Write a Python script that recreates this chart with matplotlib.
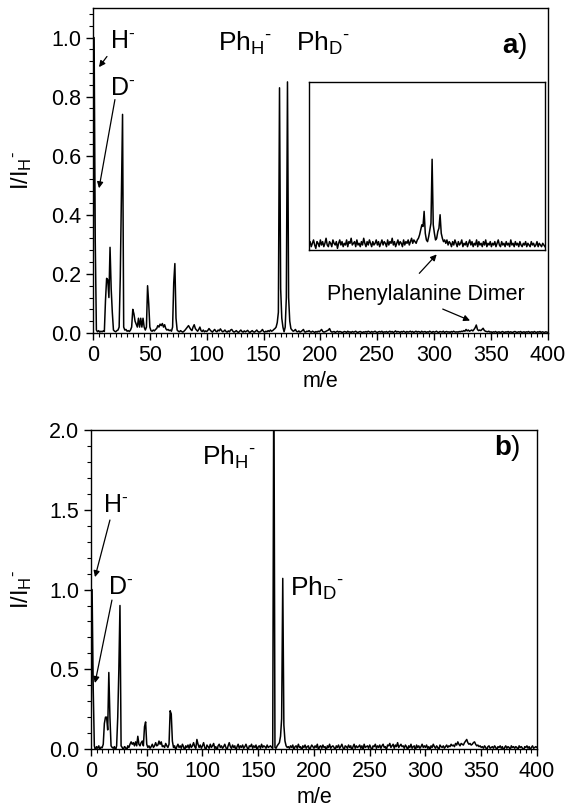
import numpy as np
import matplotlib
matplotlib.use("Agg")
import matplotlib.pyplot as plt
from matplotlib.ticker import MultipleLocator

plt.rcParams["font.family"] = ["Liberation Sans", "DejaVu Sans"]
plt.rcParams["mathtext.fontset"] = "custom"
plt.rcParams["mathtext.rm"] = "Liberation Sans"
plt.rcParams["mathtext.it"] = "Liberation Sans:italic"
plt.rcParams["mathtext.bf"] = "Liberation Sans:bold"

# m/e grid of both spectra (1 unit steps, 0..400)
mz = np.arange(0, 401)

# panel a) intensity, I/I_H-
int_a = [
    0.0, 1.0, 0.31, 0.01, 0.004, 0.008, 0.003, 0.006, 0.004, 0.007, 0.005, 0.11, 0.185, 0.18, 0.12, 0.29, 0.15, 0.07, 0.01, 0.006,
    0.004, 0.008, 0.01, 0.02, 0.19, 0.47, 0.74, 0.02, 0.01, 0.012, 0.006, 0.008, 0.005, 0.01, 0.02, 0.08, 0.065, 0.04, 0.03, 0.02,
    0.05, 0.02, 0.05, 0.02, 0.05, 0.02, 0.01, 0.02, 0.16, 0.1, 0.02, 0.008, 0.006, 0.01, 0.007, 0.012, 0.015, 0.025, 0.02, 0.03,
    0.025, 0.032, 0.02, 0.028, 0.015, 0.01, 0.012, 0.008, 0.01, 0.006, 0.02, 0.17, 0.235, 0.05, 0.01, 0.006, 0.004, 0.008, 0.005, 0.003,
    0.006, 0.01, 0.015, 0.02, 0.025, 0.018, 0.012, 0.008, 0.02, 0.028, 0.015, 0.01, 0.006, 0.012, 0.02, 0.008, 0.005, 0.01, 0.004, 0.007,
    0.005, 0.009, 0.015, 0.01, 0.006, 0.003, 0.008, 0.012, 0.006, 0.004, 0.01, 0.007, 0.014, 0.008, 0.004, 0.006, 0.01, 0.005, 0.003, 0.007,
    0.004, 0.01, 0.012, 0.006, 0.003, 0.005, 0.008, 0.004, 0.002, 0.006, 0.01, 0.005, 0.003, 0.007, 0.004, 0.006, 0.009, 0.004, 0.002, 0.005,
    0.008, 0.004, 0.003, 0.006, 0.01, 0.005, 0.003, 0.004, 0.007, 0.012, 0.005, 0.003, 0.006, 0.004, 0.008, 0.005, 0.01, 0.006, 0.008, 0.012,
    0.015, 0.02, 0.035, 0.07, 0.83, 0.15, 0.05, 0.02, 0.004, 0.02, 0.12, 0.85, 0.12, 0.04, 0.015, 0.01, 0.006, 0.008, 0.012, 0.005,
    0.004, 0.007, 0.003, 0.005, 0.008, 0.012, 0.004, 0.003, 0.006, 0.005, 0.008, 0.004, 0.003, 0.006, 0.004, 0.002, 0.005, 0.003, 0.006, 0.004,
    0.008, 0.012, 0.005, 0.003, 0.004, 0.006, 0.008, 0.01, 0.015, 0.006, 0.003, 0.004, 0.005, 0.002, 0.004, 0.006, 0.003, 0.005, 0.004, 0.002,
    0.003, 0.005, 0.004, 0.002, 0.006, 0.003, 0.004, 0.002, 0.005, 0.003, 0.004, 0.006, 0.003, 0.002, 0.004, 0.005, 0.003, 0.002, 0.004, 0.003,
    0.005, 0.003, 0.006, 0.004, 0.002, 0.005, 0.003, 0.004, 0.006, 0.003, 0.002, 0.004, 0.005, 0.003, 0.006, 0.002, 0.004, 0.003, 0.005, 0.002,
    0.004, 0.006, 0.003, 0.005, 0.002, 0.004, 0.007, 0.003, 0.005, 0.004, 0.002, 0.005, 0.003, 0.006, 0.004, 0.002, 0.005, 0.003, 0.004, 0.006,
    0.003, 0.005, 0.002, 0.004, 0.006, 0.003, 0.005, 0.004, 0.002, 0.006, 0.003, 0.004, 0.005, 0.002, 0.004, 0.003, 0.006, 0.004, 0.002, 0.005,
    0.003, 0.004, 0.006, 0.003, 0.002, 0.005, 0.004, 0.003, 0.006, 0.002, 0.004, 0.005, 0.003, 0.004, 0.002, 0.005, 0.003, 0.006, 0.004, 0.003,
    0.004, 0.003, 0.005, 0.004, 0.006, 0.005, 0.008, 0.006, 0.012, 0.007, 0.01, 0.006, 0.008, 0.01, 0.007, 0.012, 0.018, 0.027, 0.012, 0.008,
    0.01, 0.008, 0.012, 0.016, 0.009, 0.006, 0.005, 0.004, 0.006, 0.003, 0.004, 0.002, 0.004, 0.003, 0.005, 0.002, 0.003, 0.004, 0.002, 0.003,
    0.005, 0.003, 0.002, 0.004, 0.003, 0.005, 0.002, 0.004, 0.003, 0.002, 0.004, 0.005, 0.003, 0.002, 0.004, 0.003, 0.005, 0.002, 0.003, 0.004,
    0.002, 0.004, 0.003, 0.005, 0.002, 0.003, 0.004, 0.002, 0.005, 0.003, 0.002, 0.004, 0.003, 0.005, 0.002, 0.004, 0.003, 0.002, 0.004, 0.003,
    0.002,
]

# panel b) intensity, I/I_H-
int_b = [
    0.0, 1.0, 0.38, 0.02, -0.01, 0.015, 0.005, 0.02, -0.005, 0.012, 0.008, 0.03, 0.16, 0.2, 0.2, 0.12, 0.48, 0.2, 0.02, 0.01,
    0.005, 0.015, -0.01, 0.02, 0.2, 0.5, 0.9, 0.02, 0.01, -0.005, 0.015, 0.01, -0.01, 0.02, 0.01, 0.03, 0.045, 0.03, 0.04, 0.02,
    0.045, 0.02, 0.08, 0.03, 0.02, 0.04, 0.05, 0.02, 0.14, 0.17, 0.03, 0.01, 0.02, 0.005, 0.015, 0.03, 0.01, 0.02, 0.04, 0.02,
    0.025, 0.05, 0.03, 0.045, 0.015, 0.02, 0.01, 0.035, 0.02, 0.01, 0.03, 0.24, 0.22, 0.05, 0.01, 0.02, -0.005, 0.015, 0.03, 0.01,
    0.02, 0.005, 0.03, 0.015, -0.01, 0.02, 0.01, 0.025, 0.005, 0.03, 0.01, 0.02, 0.04, 0.015, 0.005, 0.06, 0.03, 0.01, 0.025, 0.005,
    0.02, 0.04, 0.01, -0.005, 0.025, 0.015, 0.005, 0.03, 0.01, 0.02, 0.035, 0.005, 0.015, -0.01, 0.02, 0.03, 0.01, 0.02, 0.005, 0.015,
    0.03, 0.01, -0.005, 0.02, 0.04, 0.015, 0.005, 0.025, 0.01, 0.02, -0.01, 0.015, 0.03, 0.005, 0.02, 0.01, 0.025, 0.005, 0.015, 0.03,
    0.01, -0.005, 0.02, 0.015, 0.03, 0.005, 0.02, 0.01, 0.025, -0.01, 0.015, 0.02, 0.005, 0.03, 0.01, 0.02, 0.015, 0.005, 0.025, 0.01,
    0.015, 0.02, 0.01, 0.005, 2.5, 0.01, 0.005, 0.02, 0.03, 0.04, 0.08, 0.19, 1.07, 0.15, 0.05, 0.02, 0.01, 0.015, 0.005, 0.02,
    0.01, 0.025, -0.005, 0.015, 0.02, 0.005, 0.03, 0.01, 0.015, -0.01, 0.02, 0.01, 0.025, 0.005, 0.015, 0.02, -0.005, 0.01, 0.025, 0.015,
    0.005, 0.02, 0.01, 0.03, -0.005, 0.015, 0.02, 0.005, 0.025, 0.01, 0.015, -0.01, 0.02, 0.01, 0.03, 0.005, 0.015, 0.02, 0.01, -0.005,
    0.02, 0.01, 0.025, 0.005, 0.015, 0.03, 0.01, -0.005, 0.02, 0.015, 0.005, 0.025, 0.01, 0.02, -0.01, 0.015, 0.03, 0.005, 0.02, 0.01,
    0.015, 0.025, 0.005, 0.02, -0.005, 0.03, 0.01, 0.015, 0.02, 0.005, 0.025, 0.01, -0.01, 0.02, 0.015, 0.03, 0.005, 0.02, 0.01, 0.025,
    0.005, 0.02, 0.03, 0.01, 0.015, -0.005, 0.025, 0.02, 0.035, 0.01, 0.02, 0.03, 0.005, 0.025, 0.015, 0.04, 0.01, 0.02, 0.03, 0.015,
    0.02, 0.005, 0.025, 0.015, -0.005, 0.02, 0.01, 0.03, 0.005, 0.015, 0.02, -0.01, 0.025, 0.01, 0.02, 0.005, 0.015, 0.03, 0.01, 0.02,
    0.01, 0.025, 0.005, 0.015, -0.005, 0.02, 0.01, 0.03, 0.015, 0.005, 0.02, 0.01, -0.005, 0.025, 0.015, 0.01, 0.02, 0.005, 0.015, 0.025,
    0.01, 0.02, 0.015, 0.03, 0.02, 0.025, 0.015, 0.035, 0.025, 0.045, 0.03, 0.02, 0.035, 0.03, 0.025, 0.04, 0.05, 0.06, 0.04, 0.03,
    0.035, 0.025, 0.03, 0.04, 0.045, 0.03, 0.02, 0.025, 0.015, 0.02, 0.01, 0.015, 0.005, 0.02, 0.01, -0.005, 0.015, 0.02, 0.005, 0.01,
    0.015, 0.005, 0.02, 0.01, -0.005, 0.015, 0.01, 0.02, 0.005, 0.015, -0.01, 0.01, 0.02, 0.005, 0.015, 0.01, -0.005, 0.02, 0.01, 0.015,
    0.005, 0.015, 0.01, -0.005, 0.02, 0.01, 0.015, 0.005, -0.01, 0.015, 0.01, 0.02, 0.005, 0.015, -0.005, 0.01, 0.02, 0.005, 0.01, 0.015,
    0.01,
]

# inset: dimer region of panel a), arbitrary units
mz_inset = np.arange(229, 437)
int_inset = [
    0.03, 0.05, 0.02, 0.04, 0.06, 0.03, 0.01, 0.05, 0.04, 0.02, 0.06, 0.03, 0.05, 0.02, 0.04, 0.07, 0.03, 0.02, 0.05, 0.04,
    0.02, 0.06, 0.04, 0.03, 0.05, 0.01, 0.04, 0.06, 0.03, 0.05, 0.02, 0.04, 0.03, 0.06, 0.02, 0.05, 0.04, 0.07, 0.03, 0.04,
    0.05, 0.02, 0.06, 0.03, 0.04, 0.02, 0.05, 0.03, 0.07, 0.04, 0.02, 0.05, 0.03, 0.06, 0.04, 0.02, 0.05, 0.03, 0.04, 0.06,
    0.03, 0.05, 0.02, 0.04, 0.06, 0.03, 0.05, 0.04, 0.02, 0.06, 0.03, 0.05, 0.04, 0.07, 0.03, 0.05, 0.02, 0.04, 0.06, 0.03,
    0.05, 0.04, 0.02, 0.06, 0.03, 0.05, 0.04, 0.06, 0.03, 0.05, 0.07, 0.04, 0.06, 0.05, 0.04, 0.06, 0.07, 0.09, 0.12, 0.15,
    0.14, 0.23, 0.1, 0.06, 0.05, 0.08, 0.12, 0.16, 0.54, 0.15, 0.1, 0.06, 0.07, 0.11, 0.13, 0.21, 0.1, 0.07, 0.05, 0.06,
    0.04, 0.06, 0.03, 0.05, 0.04, 0.02, 0.05, 0.03, 0.06, 0.04, 0.02, 0.05, 0.03, 0.04, 0.06, 0.02, 0.04, 0.03, 0.05, 0.02,
    0.04, 0.06, 0.03, 0.05, 0.02, 0.04, 0.03, 0.06, 0.02, 0.05, 0.03, 0.04, 0.02, 0.05, 0.03, 0.06, 0.02, 0.04, 0.03, 0.05,
    0.02, 0.04, 0.03, 0.05, 0.02, 0.04, 0.06, 0.03, 0.02, 0.05, 0.03, 0.04, 0.02, 0.05, 0.03, 0.04, 0.02, 0.06, 0.03, 0.04,
    0.02, 0.05, 0.03, 0.04, 0.02, 0.05, 0.03, 0.02, 0.04, 0.03, 0.05, 0.02, 0.04, 0.03, 0.02, 0.05, 0.03, 0.04, 0.02, 0.03,
    0.05, 0.02, 0.04, 0.03, 0.02, 0.04, 0.03, 0.02,
]

assert len(int_a) == len(mz) and len(int_b) == len(mz) and len(int_inset) == len(mz_inset)

FS = 15.5
arrow = dict(arrowstyle="-|>", color="k", lw=0.9, mutation_scale=9, shrinkA=0, shrinkB=0)


def ion(name, sub=None):
    # label like H- or Ph_H- with a small raised hyphen after the subscript
    s = name
    if sub:
        s += r"$_{\mathregular{%s}}$" % sub
    return s + r"$^{\text{-}}$"


ylabel = "I/I" + r"$_{\mathregular{H}}$" + r"$^{\text{-}}$"


def style_axes(ax, ymax, ymajor, yminor):
    ax.set_xlim(0, 400)
    ax.set_ylim(0, ymax)
    ax.xaxis.set_major_locator(MultipleLocator(50))
    ax.xaxis.set_minor_locator(MultipleLocator(5))
    ax.yaxis.set_major_locator(MultipleLocator(ymajor))
    ax.yaxis.set_minor_locator(MultipleLocator(yminor))
    ax.yaxis.set_major_formatter(matplotlib.ticker.FormatStrFormatter("%.1f"))
    ax.tick_params(which="major", direction="out", length=5, width=1, labelsize=FS)
    ax.tick_params(which="minor", direction="out", length=3, width=0.8)
    for s in ax.spines.values():
        s.set_linewidth(1.0)
    ax.set_xlabel("m/e", fontsize=FS, labelpad=4)
    ax.set_ylabel(ylabel, fontsize=17)


fig = plt.figure(figsize=(5.69, 8.11), dpi=100)

# ---- panel a)
ax1 = fig.add_axes([0.1634, 0.5894, 0.7996, 0.4007])
ax1.plot(mz, int_a, color="k", lw=1.1)
style_axes(ax1, 1.1, 0.2, 0.04)
ax1.yaxis.set_label_coords(-0.13, 0.5)

ax1.text(15, 0.99, ion("H"), fontsize=18, va="center")
ax1.text(15, 0.83, ion("D"), fontsize=18, va="center")
ax1.annotate("", xy=(5.3, 0.90), xytext=(12.3, 0.936), arrowprops=arrow)
ax1.annotate("", xy=(5.3, 0.49), xytext=(19.3, 0.79), arrowprops=arrow)
ax1.text(110, 0.98, ion("Ph", "H"), fontsize=19, va="center")
ax1.text(178.5, 0.98, ion("Ph", "D"), fontsize=19, va="center")
ax1.text(382, 0.97, r"$\mathbf{a}$)", fontsize=20, va="center", ha="right")
ax1.text(293, 0.132, "Phenylalanine Dimer", fontsize=FS, va="center", ha="center")
ax1.annotate("", xy=(331.5, 0.042), xytext=(307.5, 0.081), arrowprops=arrow)
ax1.annotate("", xy=(302.2, 0.266), xytext=(286.9, 0.202), arrowprops=arrow,
             annotation_clip=False)

# inset
axi = fig.add_axes([0.543, 0.6917, 0.4148, 0.2072])
axi.plot(mz_inset, int_inset, color="k", lw=1.1)
axi.set_xlim(229, 436)
axi.set_ylim(0, 1)
axi.set_xticks([])
axi.set_yticks([])
for s in axi.spines.values():
    s.set_linewidth(1.0)

# ---- panel b)
ax2 = fig.add_axes([0.1599, 0.0764, 0.7838, 0.3933])
ax2.plot(mz, int_b, color="k", lw=1.1)
style_axes(ax2, 2.0, 0.5, 0.1)
ax2.yaxis.set_label_coords(-0.128, 0.5)

ax2.text(10.8, 1.53, ion("H"), fontsize=18, va="center")
ax2.text(15.2, 1.016, ion("D"), fontsize=18, va="center")
ax2.annotate("", xy=(3.6, 1.078), xytext=(17, 1.436), arrowprops=arrow)
ax2.annotate("", xy=(3.6, 0.414), xytext=(18.8, 0.934), arrowprops=arrow)
ax2.text(148.4, 1.83, ion("Ph", "H"), fontsize=19, va="center", ha="right")
ax2.text(178.5, 1.01, ion("Ph", "D"), fontsize=19, va="center")
ax2.text(385.4, 1.89, r"$\mathbf{b}$)", fontsize=20, va="center", ha="right")

fig.savefig("out.png", dpi=100)
